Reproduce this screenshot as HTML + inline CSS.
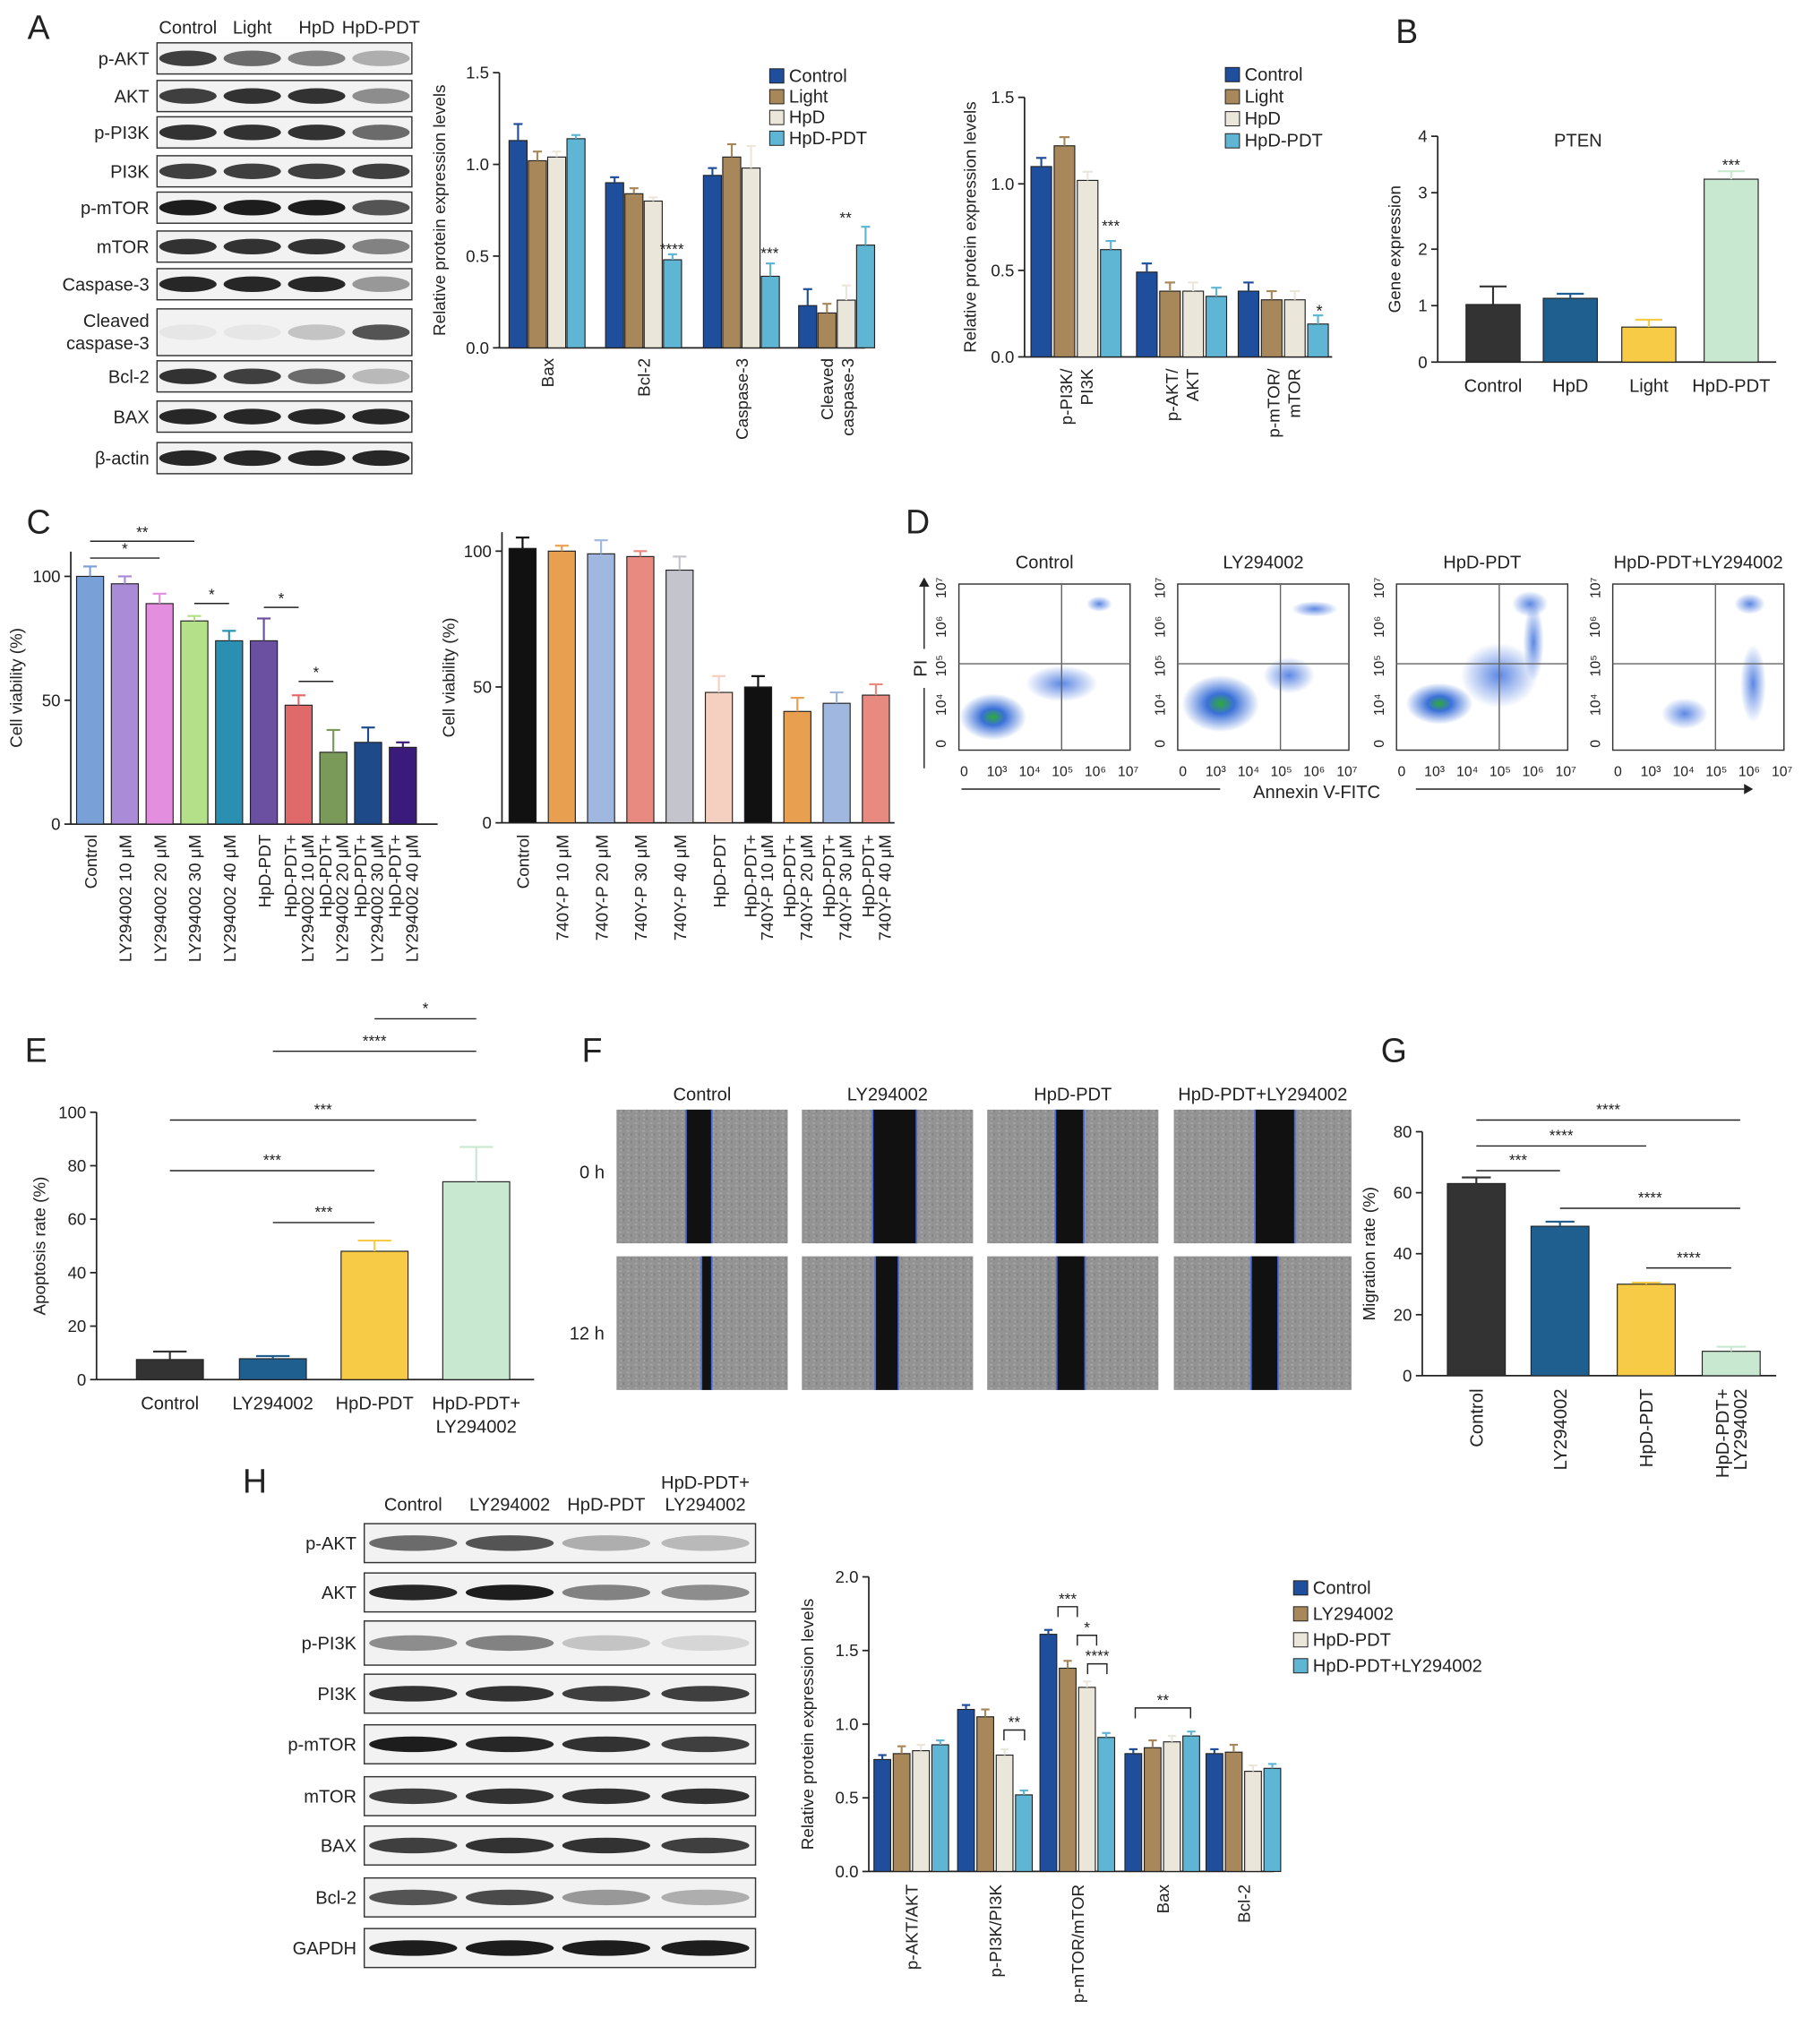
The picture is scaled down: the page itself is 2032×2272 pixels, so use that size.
<!DOCTYPE html>
<html><head><meta charset="utf-8">
<style>
html,body{margin:0;padding:0;background:#fff;}
svg{display:block;font-family:"Liberation Sans",Arial,sans-serif;}
</style></head>
<body>
<svg id="fig" xmlns="http://www.w3.org/2000/svg" width="2032" height="2272" viewBox="0 0 1414 1568" preserveAspectRatio="none">
<defs>
<radialGradient id="flowG"><stop offset="0" stop-color="#2eaa3a"/><stop offset="0.35" stop-color="#3a70d8"/><stop offset="1" stop-color="#3a70d8" stop-opacity="0"/></radialGradient>
<radialGradient id="flowB"><stop offset="0" stop-color="#4a7ae0" stop-opacity="0.9"/><stop offset="1" stop-color="#4a7ae0" stop-opacity="0"/></radialGradient>
<pattern id="noise" width="6" height="6" patternUnits="userSpaceOnUse"><rect width="6" height="6" fill="#939393"/><rect x="1" y="1" width="2" height="1" fill="#a8a8a8"/><rect x="4" y="3" width="1" height="2" fill="#808080"/><rect x="2" y="4" width="1" height="1" fill="#ababab"/></pattern>
</defs>
<g id="root"></g>
</svg>
<script>
// ---- data ----
const aCats=["Bax","Bcl-2","Caspase-3","Cleaved caspase-3"];
const aControl=[1.13,0.90,0.94,0.23];
const aLight=[1.02,0.84,1.04,0.19];
const aHpD=[1.04,0.80,0.98,0.26];
const aHpDPDT=[1.14,0.48,0.39,0.56];
const aErr=[[0.09,0.03,0.04,0.09],[0.05,0.03,0.07,0.05],[0.03,0.02,0.12,0.08],[0.02,0.03,0.07,0.10]];
const a2Cats=["p-PI3K/PI3K","p-AKT/AKT","p-mTOR/mTOR"];
const a2Control=[1.10,0.49,0.38];
const a2Light=[1.22,0.38,0.33];
const a2HpD=[1.02,0.38,0.33];
const a2HpDPDT=[0.62,0.35,0.19];
const bCats=["Control","HpD","Light","HpD-PDT"];
const bValues=[1.02,1.13,0.62,3.24];
const bErr=[0.32,0.08,0.13,0.14];
const c1Cats=["Control","LY294002 10 μM","LY294002 20 μM","LY294002 30 μM","LY294002 40 μM","HpD-PDT","HpD-PDT+|LY294002 10 μM","HpD-PDT+|LY294002 20 μM","HpD-PDT+|LY294002 30 μM","HpD-PDT+|LY294002 40 μM"];
const c1Values=[100,97,89,82,74,74,48,29,33,31];
const c1Err=[4,3,4,2,4,9,4,9,6,2];
const c2Cats=["Control","740Y-P 10 μM","740Y-P 20 μM","740Y-P 30 μM","740Y-P 40 μM","HpD-PDT","HpD-PDT+|740Y-P 10 μM","HpD-PDT+|740Y-P 20 μM","HpD-PDT+|740Y-P 30 μM","HpD-PDT+|740Y-P 40 μM"];
const c2Values=[101,100,99,98,93,48,50,41,44,47];
const c2Err=[4,2,5,2,5,6,4,5,4,4];
const eCats=["Control","LY294002","HpD-PDT","HpD-PDT+|LY294002"];
const eValues=[7.5,7.8,48,74];
const eErr=[3,1,4,13];
const gCats=["Control","LY294002","HpD-PDT","HpD-PDT+|LY294002"];
const gValues=[63,49,30,8];
const gErr=[2,1.5,0.5,1.5];
const hCats=["p-AKT/AKT","p-PI3K/PI3K","p-mTOR/mTOR","Bax","Bcl-2"];
const hControl=[0.76,1.10,1.61,0.80,0.80];
const hLY=[0.80,1.05,1.38,0.84,0.81];
const hHpDPDT=[0.82,0.79,1.25,0.88,0.68];
const hCombo=[0.86,0.52,0.91,0.92,0.70];
const hErr=[0.03,0.05,0.04,0.03];

const NS="http://www.w3.org/2000/svg";
const root=document.getElementById('root');
function el(tag,attrs,parent){const e=document.createElementNS(NS,tag);for(const k in attrs)e.setAttribute(k,attrs[k]);(parent||root).appendChild(e);return e;}
function txt(x,y,s,size,anchor,parent,rot){const t=el('text',{x:x,y:y,'font-size':size||13,'text-anchor':anchor||'middle',fill:'#222'},parent);if(rot)t.setAttribute('transform','rotate('+rot+' '+x+' '+y+')');t.textContent=s;return t;}
function group(name){const g=el('g',{});return g;}

[["A",30,30],["B",1093,33],["C",30,411],["D",713,411],["E",28,818],["F",460,818],["G",1083,818],["H",198,1150]].forEach(p=>{
  const g=group('panel-label-'+p[0].toLowerCase());
  txt(p[1],p[2],p[0],26,'middle',g);
});

function yAxis(g,x,yTop,yBot,max,ticks,fmt,label,lblX){
  const sy=v=>yBot-(v/max)*(yBot-yTop);
  el('line',{x1:x,y1:yTop,x2:x,y2:yBot,stroke:'#222','stroke-width':1.2},g);
  ticks.forEach(t=>{el('line',{x1:x-5,y1:sy(t),x2:x,y2:sy(t),stroke:'#222','stroke-width':1.2},g);
    const tt=txt(x-8,sy(t)+4.5,fmt(t),13,'end',g);});
  if(label){const l=txt(lblX,(yTop+yBot)/2,label,13,'middle',g,-90);}
  return sy;
}
function bar(g,cx,w,v,sy,color,err,name){
  const y=sy(v),y0=sy(0);
  const r=el('rect',{x:cx-w/2,y:y,width:w,height:y0-y,fill:color,stroke:'#222','stroke-width':0.8},g);
  
  if(err){const ye=sy(v+err);el('line',{x1:cx,y1:y,x2:cx,y2:ye,stroke:color,'stroke-width':1.5},g);el('line',{x1:cx-w/4,y1:ye,x2:cx+w/4,y2:ye,stroke:color,'stroke-width':1.5},g);}
}
function legend(g,x,y,names,colors,step,size){
  names.forEach((n,i)=>{const lg=el('g',{},g);
    el('rect',{x:x,y:y+i*step-10,width:11,height:11,fill:colors[i],stroke:'#222','stroke-width':0.7},lg);
    txt(x+15,y+i*step,n,size||14,'start',lg);});
}
const c4=['#1f4e9c','#a8885a','#ebe6da','#5fb6d4'];

function blot(gname,x0,x1,rows,lanes,headerY,headers){
  const g=group(gname);
  headers.forEach((h,i)=>{h.split('|').forEach((p,j,arr)=>txt(lanes[i],headerY-(arr.length-1-j)*17,p,14,'middle',g));});
  rows.forEach(r=>{
    const [name,yc,h,ints]=r;
    name.split('|').forEach((p,j,arr)=>txt(x0-6,yc+5-(arr.length-1-j)*17+(arr.length-1)*8,p,14,'end',g));
    el('rect',{x:x0,y:yc-h/2,width:x1-x0,height:h,fill:'#f2f2f2',stroke:'#333','stroke-width':1},g);
    lanes.forEach((lx,i)=>{const w=(x1-x0)/lanes.length*0.9;const a=ints[i];
      el('ellipse',{cx:lx,cy:yc,rx:w/2,ry:Math.min(h/2-2,6),fill:'#111','fill-opacity':a},g);});
  });
  return g;
}
blot('western-blot-a',122,320,[
 ['p-AKT',45,24,[0.8,0.6,0.5,0.3]],['AKT',74,24,[0.8,0.85,0.85,0.45]],['p-PI3K',102,24,[0.85,0.85,0.85,0.6]],
 ['PI3K',132,24,[0.8,0.8,0.8,0.8]],['p-mTOR',160,24,[0.95,0.95,0.95,0.7]],['mTOR',190,24,[0.85,0.85,0.85,0.5]],
 ['Caspase-3',219,24,[0.9,0.9,0.9,0.4]],['Cleaved|caspase-3',256,36,[0.05,0.05,0.2,0.7]],['Bcl-2',290,24,[0.85,0.8,0.6,0.25]],
 ['BAX',321,24,[0.9,0.9,0.9,0.9]],['β-actin',353,24,[0.9,0.9,0.9,0.9]]],
 [146,196,246,296],26,["Control","Light","HpD","HpD-PDT"]);
blot('western-blot-h',283,587,[
 ['p-AKT',1189,30,[0.6,0.7,0.3,0.25]],['AKT',1227,30,[0.9,0.95,0.5,0.45]],['p-PI3K',1266,34,[0.45,0.5,0.2,0.12]],
 ['PI3K',1305,30,[0.85,0.85,0.8,0.8]],['p-mTOR',1344,30,[0.95,0.9,0.85,0.8]],['mTOR',1384,30,[0.8,0.85,0.85,0.85]],
 ['BAX',1422,30,[0.8,0.85,0.85,0.8]],['Bcl-2',1462,30,[0.7,0.75,0.4,0.3]],['GAPDH',1501,30,[0.95,0.95,0.95,0.95]]],
 [321,396,471,548],1164,["Control","LY294002","HpD-PDT","HpD-PDT+|LY294002"]);

(function(){const g=group('chart-a-protein-levels');
 const sy=yAxis(g,388,56,268,1.5,[0,0.5,1.0,1.5],t=>t.toFixed(1),'Relative protein expression levels',346);
 el('line',{x1:388,y1:268,x2:672,y2:268,stroke:'#222','stroke-width':1.2},g);
 const series=[aControl,aLight,aHpD,aHpDPDT];const cx=[425,500,576,650];
 aCats.forEach((c,i)=>{series.forEach((s,j)=>bar(g,cx[i]+(j-1.5)*15,14,s[i],sy,c4[j],aErr[j][i],'bar-'+c));
   const parts=c==="Cleaved caspase-3"?["Cleaved","caspase-3"]:[c];
   parts.forEach((p,k)=>txt(cx[i]+5+(k-(parts.length-1)/2)*16,276,p,13,'end',g,-90));});
 [['****',522,196],['***',598,199],['**',657,172]].forEach(s=>txt(s[1],s[2],s[0],12,'middle',g));
 legend(g,598,63,["Control","Light","HpD","HpD-PDT"],c4,16,14);
})();
(function(){const g=group('chart-a-pathway-ratio');
 const sy=yAxis(g,796,75,275,1.5,[0,0.5,1.0,1.5],t=>t.toFixed(1),'Relative protein expression levels',758);
 el('line',{x1:796,y1:275,x2:1035,y2:275,stroke:'#222','stroke-width':1.2},g);
 const series=[a2Control,a2Light,a2HpD,a2HpDPDT];const cx=[836,918,997];
 a2Cats.forEach((c,i)=>{series.forEach((s,j)=>bar(g,cx[i]+(j-1.5)*18,16,s[i],sy,c4[j],0.05,'bar-'+c));
   const parts=c.split('/');parts[0]+='/';
   parts.forEach((p,k)=>txt(cx[i]+5+(k-0.5)*16,284,p,13,'end',g,-90));});
 txt(863,178,'***',12,'middle',g);txt(1025,244,'*',13,'middle',g);
 legend(g,952,62,["Control","Light","HpD","HpD-PDT"],c4,17,14);
})();
(function(){const g=group('chart-b-pten');
 const sy=yAxis(g,1117,105,279,4,[0,1,2,3,4],t=>String(t),'Gene expression',1088);
 el('line',{x1:1117,y1:279,x2:1380,y2:279,stroke:'#222','stroke-width':1.2},g);
 txt(1226,113,'PTEN',14,'middle',g);
 const cols=['#333333','#1f5f8f','#f7cb45','#c9e8d0'];const cx=[1160,1220,1281,1345];
 bCats.forEach((c,i)=>{bar(g,cx[i],42,bValues[i],sy,cols[i],bErr[i],'bar-'+c);txt(cx[i],302,c,14,'middle',g);});
 txt(1345,131,'***',12,'middle',g);
})();
(function(){const g=group('chart-c-ly294002-viability');
 const sy=yAxis(g,55,425,635,110,[0,50,100],t=>String(t),'Cell viability (%)',17);
 el('line',{x1:55,y1:635,x2:340,y2:635,stroke:'#222','stroke-width':1.2},g);
 const cols=['#7aa0d8','#a98bd8','#e48ee0','#b5e08a','#2a8fb0','#6b4fa0','#e06a6a','#7a9a5a','#1f4a8a','#3a1a7a'];
 c1Cats.forEach((c,i)=>{const cx=70+i*27;bar(g,cx,21,c1Values[i],sy,cols[i],c1Err[i],'bar-'+c);
   const parts=c.split('|');parts.forEach((p,k)=>txt(cx+5+(k-(parts.length-1)/2)*13,643,p,13,'end',g,-90));});
 [[70,151,417,'**'],[70,124,430,'*'],[151,178,465,'*'],[205,232,468,'*'],[232,259,525,'*']].forEach(s=>{el('line',{x1:s[0],y1:s[2],x2:s[1],y2:s[2],stroke:'#222'},g);txt((s[0]+s[1])/2,s[2]-3,s[3],12,'middle',g);});
})();
(function(){const g=group('chart-c-740yp-viability');
 const sy=yAxis(g,390,410,634,107,[0,50,100],t=>String(t),'Cell viability (%)',353);
 el('line',{x1:390,y1:634,x2:695,y2:634,stroke:'#222','stroke-width':1.2},g);
 const cols=['#111111','#e8a050','#a0b8e0','#e88a80','#c4c4cc','#f5cfc0','#111111','#e8a050','#a0b8e0','#e88a80'];
 c2Cats.forEach((c,i)=>{const cx=406+i*30.5;bar(g,cx,21,c2Values[i],sy,cols[i],c2Err[i],'bar-'+c);
   const parts=c.split('|');parts.forEach((p,k)=>txt(cx+5+(k-(parts.length-1)/2)*13,643,p,13,'end',g,-90));});
})();
(function(){const g=group('flow-cytometry-d');
 const titles=["Control","LY294002","HpD-PDT","HpD-PDT+LY294002"];
 const xs=[745,915,1085,1253];
 const clusters=[[[0.2,0.8,26,18],[0.6,0.6,28,14],[0.82,0.12,10,6]],[[0.25,0.72,30,22],[0.65,0.55,20,14],[0.8,0.15,18,6]],[[0.25,0.72,26,16],[0.6,0.55,30,25],[0.78,0.12,14,10],[0.8,0.35,8,30]],[[0.42,0.78,18,12],[0.82,0.6,10,30],[0.8,0.12,12,8]]];
 titles.forEach((t,i)=>{const x=xs[i],y=450,w=133,h=128;
  txt(x+w/2,438,t,14,'middle',g);
  el('rect',{x:x,y:y,width:w,height:h,fill:'#fff',stroke:'#333','stroke-width':1},g);
  clusters[i].forEach((c,k)=>el('ellipse',{cx:x+c[0]*w,cy:y+c[1]*h,rx:c[2],ry:c[3],fill:k==0&&i<3?'url(#flowG)':'url(#flowB)'},g));
  el('line',{x1:x+w*0.6,y1:y,x2:x+w*0.6,y2:y+h,stroke:'#666'},g);el('line',{x1:x,y1:y+h*0.48,x2:x+w,y2:y+h*0.48,stroke:'#666'},g);
  ['0','10³','10⁴','10⁵','10⁶','10⁷'].forEach((l,k)=>txt(x+4+k*25.5,598,l,11,'middle',g));
  ['0','10⁴','10⁵','10⁶','10⁷'].forEach((l,k)=>txt(x-10,y+h-5-k*30,l,11,'middle',g,-90));
 });
 txt(1023,615,'Annexin V-FITC',14,'middle',g);txt(720,515,'PI',14,'middle',g,-90);
 el('line',{x1:747,y1:608,x2:948,y2:608,stroke:'#222'},g);el('line',{x1:1100,y1:608,x2:1355,y2:608,stroke:'#222'},g);
 el('path',{d:'M1355,604 L1362,608 L1355,612 Z',fill:'#222'},g);
 el('line',{x1:718,y1:450,x2:718,y2:500,stroke:'#222'},g);el('line',{x1:718,y1:530,x2:718,y2:592,stroke:'#222'},g);
 el('path',{d:'M714,452 L718,445 L722,452 Z',fill:'#222'},g);
})();
(function(){const g=group('chart-e-apoptosis');
 const sy=yAxis(g,75,857,1063,100,[0,20,40,60,80,100],t=>String(t),'Apoptosis rate (%)',35);
 el('line',{x1:75,y1:1063,x2:415,y2:1063,stroke:'#222','stroke-width':1.2},g);
 const cols=['#333333','#1f5f8f','#f7cb45','#c9e8d0'];const cx=[132,212,291,370];
 eCats.forEach((c,i)=>{bar(g,cx[i],52,eValues[i],sy,cols[i],eErr[i],'bar-'+c);
   c.split('|').forEach((p,k)=>txt(cx[i],1086+k*18,p,14,'middle',g));});
 [[291,370,785,'*'],[212,370,810,'****'],[132,370,863,'***'],[132,291,902,'***'],[212,291,942,'***']].forEach(s=>{el('line',{x1:s[0],y1:s[2],x2:s[1],y2:s[2],stroke:'#222'},g);txt((s[0]+s[1])/2,s[2]-4,s[3],12,'middle',g);});
})();
(function(){const g=group('wound-healing-f');
 const xs=[479,623,767,912],ws=[133,133,133,138],titles=["Control","LY294002","HpD-PDT","HpD-PDT+LY294002"];
 const gap0=[[533,553],[678,712],[820,842],[975,1006]],gap12=[[545,553],[680,698],[821,843],[972,993]];
 titles.forEach((t,i)=>txt(xs[i]+ws[i]/2,848,t,14,'middle',g));
 txt(460,908,'0 h',14,'middle',g);txt(456,1032,'12 h',14,'middle',g);
 [[855,gap0],[968,gap12]].forEach(r=>{xs.forEach((x,i)=>{el('rect',{x:x,y:r[0],width:ws[i],height:103,fill:'url(#noise)'},g);
   const gp=r[1][i];el('rect',{x:gp[0],y:r[0],width:gp[1]-gp[0],height:103,fill:'#111'},g);
   el('line',{x1:gp[0],y1:r[0],x2:gp[0],y2:r[0]+103,stroke:'#4a6adc','stroke-width':1.2},g);
   el('line',{x1:gp[1],y1:r[0],x2:gp[1],y2:r[0]+103,stroke:'#4a6adc','stroke-width':1.2},g);});});
})();
(function(){const g=group('chart-g-migration');
 const sy=yAxis(g,1105,872,1060,80,[0,20,40,60,80],t=>String(t),'Migration rate (%)',1068);
 el('line',{x1:1105,y1:1060,x2:1380,y2:1060,stroke:'#222','stroke-width':1.2},g);
 const cols=['#333333','#1f5f8f','#f7cb45','#c9e8d0'];const cx=[1147,1212,1279,1345];
 gCats.forEach((c,i)=>{bar(g,cx[i],45,gValues[i],sy,cols[i],gErr[i],'bar-'+c);
   const parts=c.split('|');parts.forEach((p,k)=>txt(cx[i]+5+(k-(parts.length-1)/2)*14,1070,p,14,'end',g,-90));});
 [[1147,1352,863,'****'],[1147,1279,883,'****'],[1147,1212,902,'***'],[1212,1352,931,'****'],[1279,1345,977,'****']].forEach(s=>{el('line',{x1:s[0],y1:s[2],x2:s[1],y2:s[2],stroke:'#222'},g);txt((s[0]+s[1])/2,s[2]-4,s[3],12,'middle',g);});
})();
(function(){const g=group('chart-h-protein-levels');
 const sy=yAxis(g,675,1215,1442,2.0,[0,0.5,1.0,1.5,2.0],t=>t.toFixed(1),'Relative protein expression levels',632);
 el('line',{x1:675,y1:1442,x2:990,y2:1442,stroke:'#222','stroke-width':1.2},g);
 const series=[hControl,hLY,hHpDPDT,hCombo];const cx=[708,773,837,903,966];
 hCats.forEach((c,i)=>{series.forEach((s,j)=>bar(g,cx[i]+(j-1.5)*15,13,s[i],sy,c4[j],hErr[j],'bar-'+c));
   txt(cx[i]+5,1452,c,13,'end',g,-90);});
 [[780,796,1333,'**'],[822,837,1238,'***'],[837,852,1260,'*'],[845,860,1282,'****'],[882,925,1316,'**']].forEach(s=>{el('path',{d:'M'+s[0]+','+(s[2]+8)+' V'+s[2]+' H'+s[1]+' V'+(s[2]+8),fill:'none',stroke:'#222'},g);txt((s[0]+s[1])/2,s[2]-2,s[3],12,'middle',g);});
 legend(g,1005,1228,["Control","LY294002","HpD-PDT","HpD-PDT+LY294002"],c4,20,14);
})();
</script>
</body></html>
